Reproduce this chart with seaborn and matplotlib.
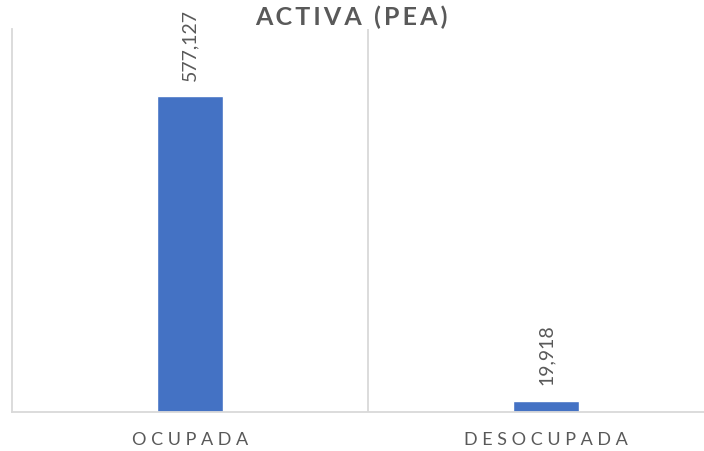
import matplotlib
matplotlib.use("Agg")
import matplotlib.pyplot as plt
import seaborn as sns
import pandas as pd

categories = ["OCUPADA", "DESOCUPADA"]
values = [577127, 19918]
title_text = "ACTIVA (PEA)"

sns.set_theme(style="white")
plt.rcParams['font.family'] = ['Lato', 'DejaVu Sans']

gray = "#595959"
line_gray = "#d9d9d9"
bar_blue = "#4472c4"


def spaced(s, sep="\u2009"):
    return sep.join(list(s))


df = pd.DataFrame({"cat": categories, "val": values})

fig = plt.figure(figsize=(7.04, 4.52), dpi=100)
ax = fig.add_axes([12 / 704, 39 / 452, 712 / 704, 383 / 452])

sns.barplot(data=df, x="cat", y="val", color=bar_blue, width=0.183,
            saturation=1, ax=ax)

ax.set_ylim(0, 700000)
ax.set_xlim(-0.5, 1.5)
ax.set_yticks([])
ax.set_xlabel("")
ax.set_ylabel("")
ax.set_xticks(range(len(categories)))
ax.set_xticklabels([spaced(c, " ") for c in categories], color=gray, fontsize=13)
ax.tick_params(axis="x", length=0, pad=14)

# category separator
ax.set_xticks([0.5], minor=True)
ax.tick_params(axis="x", which="minor", length=0)
ax.grid(which="minor", axis="x", color=line_gray, linewidth=1.3)

for side in ["top", "right"]:
    ax.spines[side].set_visible(False)
for side in ["left", "bottom"]:
    ax.spines[side].set_color(line_gray)
    ax.spines[side].set_linewidth(1.3)

for i, v in enumerate(values):
    ax.annotate(f"{v:,}", xy=(i, v), xytext=(0, 12), textcoords="offset points",
                rotation=90, ha="center", va="bottom", color=gray, fontsize=14)

fig.text(351 / 704, 1 - 25 / 452, spaced(title_text, "\u2009"), ha="center", va="baseline",
         color=gray, fontsize=18, fontweight="bold")

fig.savefig("out.png", dpi=100)
